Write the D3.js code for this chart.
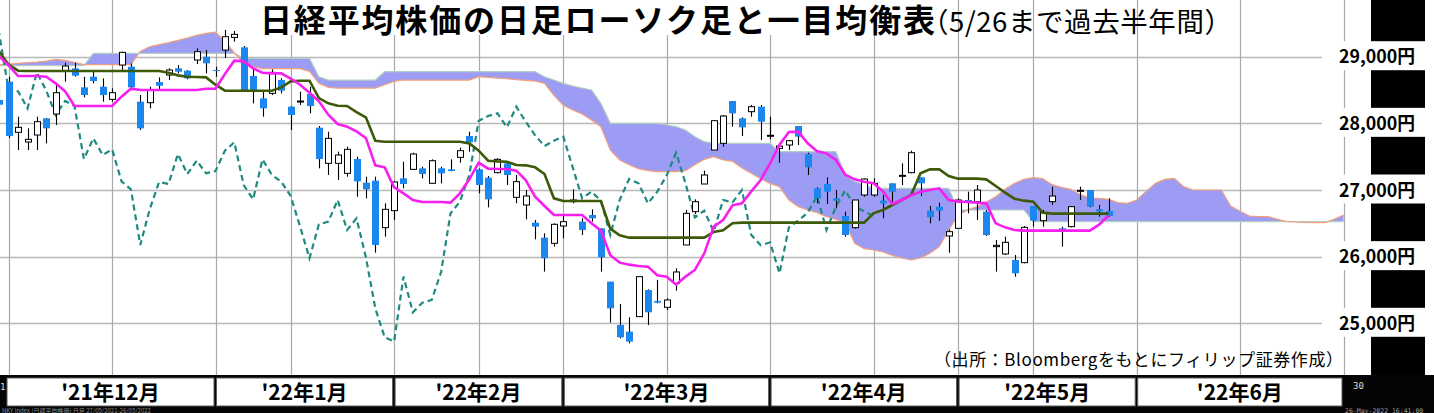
<!DOCTYPE html>
<html><head><meta charset="utf-8">
<script src="https://cdn.jsdelivr.net/npm/d3@7"></script>
<style>html,body{margin:0;padding:0;background:#fff;}svg{display:block;}</style>
</head><body>
<svg id="chart" width="1434" height="413"></svg>
<script>
// ---------- DATA ----------
const dates = ["11/29","11/30","12/1","12/2","12/3","12/6","12/7","12/8","12/9","12/10","12/13","12/14","12/15","12/16","12/17","12/20","12/21","12/22","12/23","12/24","12/27","12/28","12/29","12/30","1/4","1/5","1/6","1/7","1/11","1/12","1/13","1/14","1/17","1/18","1/19","1/20","1/21","1/24","1/25","1/26","1/27","1/28","1/31","2/1","2/2","2/3","2/4","2/7","2/8","2/9","2/10","2/14","2/15","2/16","2/17","2/18","2/21","2/22","2/24","2/25","2/28","3/1","3/2","3/3","3/4","3/7","3/8","3/9","3/10","3/11","3/14","3/15","3/16","3/17","3/18","3/22","3/23","3/24","3/25","3/28","3/29","3/30","3/31","4/1","4/4","4/5","4/6","4/7","4/8","4/11","4/12","4/13","4/14","4/15","4/18","4/19","4/20","4/21","4/22","4/25","4/26","4/27","4/28","5/2","5/6","5/9","5/10","5/11","5/12","5/13","5/16","5/17","5/18","5/19","5/20","5/23","5/24","5/25","5/26"];
const futureDates = ["5/27","5/30","5/31","6/1","6/2","6/3","6/6","6/7","6/8","6/9","6/10","6/13","6/14","6/15","6/16","6/17","6/20","6/21","6/22","6/23","6/24","6/27","6/28","6/29","6/30"];

const open = [28350,28625,27865,27720,27825,28075,28140,28790,28825,28540,
28700,28550,28360,28875,28850,28325,28310,28620,28725,28825,
28790,28950,29000,28800,29100,29290,29140,28710,28375,28450,
28650,28250,28330,28440,27935,27400,27400,27250,27465,27110,
27140,26435,26690,27175,27310,27325,27100,27325,27310,27490,
27810,27310,27185,27260,27400,26890,26775,26510,26285,26200,
26460,26825,26525,26625,26425,25625,24975,24875,25100,25500,
25335,25240,25600,26175,26675,27090,27600,27700,28335,28075,
28175,28250,27815,27625,27675,27960,27540,27025,27090,26875,
26610,26435,26925,26925,26840,27100,27210,27260,27190,26690,
26750,26310,26425,26850,26825,26675,26150,26040,25950,25910,
26760,26540,26825,26425,26450,26985,27000,26710,26685];
const high = [28550,28700,28100,27925,28100,28080,28610,28910,28910,28700,
28790,28675,28525,29075,28900,28425,28550,28690,28825,28875,
28800,29125,29100,28850,29400,29385,29160,28825,28475,28810,
28675,28260,28475,28550,27960,27875,27575,27650,27500,27200,
27200,26800,27130,27425,27560,27350,27460,27350,27460,27635,
27875,27325,27210,27475,27410,27225,27000,26550,26350,26500,
26625,27010,26575,26710,26425,25625,25290,25090,25700,25510,
25650,25375,25825,26700,26860,27290,28050,28125,28335,28090,
28275,28275,28100,27700,27750,27960,27560,27040,27190,27000,
26675,26850,27175,27175,26925,27100,27400,27590,27190,26760,
26810,26410,26875,26975,27075,26700,26250,26300,26025,26460,
26760,26700,27050,26450,26760,27050,27000,26775,26875];
const low = [28200,27780,27600,27600,27600,27700,27975,28625,28700,28390,
28600,28325,28325,28800,28525,27900,28225,28490,28650,28750,
28660,28890,28750,28700,28980,29225,28480,28300,28100,28425,
28450,27900,28275,28150,27325,27225,27150,27200,26900,26875,
26060,26300,26550,27025,27300,27175,27090,27100,27280,27410,
27575,26950,26740,27250,27075,26800,26560,26260,25775,26150,
26275,26800,26325,26525,25775,25010,24775,24700,25100,24975,
25300,25200,25490,26175,26640,27090,27600,27650,27950,27810,
28100,27750,27760,27410,27600,27675,27225,26800,26790,26725,
26300,26420,26900,26900,26575,26775,27075,27250,26910,26500,
26540,26060,26425,26650,26550,26310,25775,26025,25700,25900,
26450,26450,26775,26150,26440,26850,26740,26600,26600];
const close = [28280,27810,27940,27760,28025,27925,28460,28860,28715,28425,
28635,28425,28460,29065,28540,27925,28500,28565,28800,28775,
28675,29075,28900,28790,29300,29335,28490,28480,28225,28765,
28490,28125,28335,28260,27465,27775,27525,27610,27130,27010,
26175,26710,27120,27090,27540,27240,27440,27250,27285,27590,
27715,27075,26860,27460,27225,27125,26910,26450,25975,26485,
26525,26850,26400,26575,25990,25225,24790,24725,25700,25165,
25310,25350,25770,26650,26825,27225,28040,28110,28150,27940,
28250,28025,27821,27660,27740,27800,27340,26875,26975,26840,
26325,26850,27165,27100,26800,26975,27220,27560,27100,26590,
26690,26375,26850,26815,27000,26325,26170,26215,25750,26440,
26540,26660,26910,26400,26750,26995,26750,26680,26610];

// 転換線 (conversion line)
const tenkan = [29000,28870,28710,28710,28710,28700,28600,28480,28260,28260,
28260,28260,28260,28400,28520,28500,28500,28500,28500,28500,
28500,28500,28520,28520,28740,28940,28930,28825,28760,28750,
28750,28670,28580,28460,28330,28130,27990,27950,27880,27780,
27370,27340,27040,26950,26850,26820,26820,26820,26810,26950,
27160,27410,27320,27315,27315,27290,27150,26900,26760,26625,
26625,26625,26625,26500,26390,26020,25910,25880,25860,25850,
25720,25700,25580,25700,25800,26050,26450,26550,26770,26800,
26980,27150,27400,27680,27870,27875,27700,27580,27550,27450,
27230,27160,27125,27100,26980,26790,26850,26920,26975,27000,
27025,26850,26825,26820,26810,26800,26500,26440,26400,26390,
26390,26390,26390,26390,26390,26390,26390,26480,26620];
// 基準線 (base line)
const kijun = [29075,28880,28790,28785,28785,28785,28785,28785,28785,28785,
28785,28785,28785,28785,28785,28785,28785,28785,28760,28720,
28700,28695,28690,28580,28490,28490,28490,28490,28490,28490,
28540,28630,28640,28640,28380,28300,28265,28260,28170,28090,
27740,27725,27725,27725,27725,27725,27725,27725,27725,27725,
27700,27590,27440,27430,27425,27375,27370,27340,27240,26875,
26835,26835,26835,26835,26835,26420,26320,26285,26285,26285,
26285,26285,26285,26285,26285,26285,26370,26395,26500,26510,
26510,26510,26510,26510,26510,26510,26510,26510,26510,26510,
26510,26510,26510,26650,26700,26775,26850,26925,27250,27310,
27310,27210,27170,27170,27170,27160,27060,26960,26870,26840,
26825,26660,26645,26645,26645,26645,26645,26645,26645];
// 先行スパン1 / 先行スパン2 (cloud, 26 days ahead)
const senkouA = [28880,28890,28900,28910,28920,28935,28960,28945,28915,28880,
28880,28880,28880,28880,28880,29080,29150,29180,29210,29245,
29280,29320,29350,29370,29230,29060,28900,28850,28820,28820,
28820,28820,28820,28780,28600,28540,28530,28530,28530,28530,
28530,28580,28630,28650,28650,28650,28650,28650,28650,28650,
28650,28700,28690,28680,28670,28655,28645,28635,28600,28420,
28270,28200,28140,28050,27950,27600,27450,27380,27320,27290,
27275,27275,27275,27290,27380,27460,27500,27450,27430,27330,
27250,27170,27100,27050,26850,26750,26700,26660,26600,26560,
26500,26200,26120,26100,26070,26020,25980,25950,25980,26050,
26150,26400,26620,26700,26750,26820,26900,27010,27100,27160,
27185,27170,27080,27040,27010,26930,26880,26875,26860,26810,
26800,26850,26980,27100,27160,27175,27050,27000,27000,27000,
27000,26760,26680,26610,26600,26600,26560,26525,26520,26515,
26510,26510,26560,26625];
const senkouB = [28865,28865,28865,28865,28865,28865,28865,28865,28865,28865,
29050,29050,29050,29050,29050,29050,29050,29050,29050,29050,
29050,29050,29050,29050,29050,29050,28975,28975,28975,28975,
28975,28975,28975,28975,28700,28650,28650,28650,28650,28650,
28650,28775,28775,28775,28775,28775,28775,28775,28775,28775,
28775,28775,28775,28775,28775,28775,28775,28775,28700,28650,
28600,28560,28530,28500,28300,28000,28000,28000,28000,28000,
28000,27975,27950,27900,27800,27725,27700,27700,27700,27700,
27700,27700,27700,27575,27575,27575,27575,27575,27575,27575,
27220,27130,27080,27025,27025,27025,27025,27025,27025,27025,
27025,27025,26700,26700,26700,26700,26700,26700,26700,26700,
26525,26525,26525,26525,26525,26525,26525,26525,26525,26525,
26525,26525,26525,26525,26525,26525,26525,26525,26525,26525,
26525,26525,26525,26525,26525,26525,26525,26525,26525,26525,
26525,26525,26525,26525];
const CHIKOU_SHIFT = 25; // 遅行スパン: close plotted 25 bars back

const priceTicks = [29000,28000,27000,26000,25000];
const priceLabels = ["29,000円","28,000円","27,000円","26,000円","25,000円"];
const gridDays = [1,12,23,31,42,51,60,71,82,93,102,110,121,132,143];
const monthLabels = ["'21年12月","'22年1月","'22年2月","'22年3月","'22年4月","'22年5月","'22年6月"];
const monthSpans = [[1,23],[23,42],[42,60],[60,82],[82,102],[102,121],[121,143]];
const titleMain = "日経平均株価の日足ローソク足と一目均衡表";
const titleSub = "（5/26まで過去半年間）";
const sourceText = "（出所：Bloombergをもとにフィリップ証券作成）";

// ---------- DRAW ----------
const W = 1434, H = 413;
const FONT = "'Noto Sans CJK JP','Noto Sans',sans-serif";
const nBars = dates.length + futureDates.length; // 144
const x = d3.scaleLinear().domain([0, nBars - 1]).range([-0.7, 1343.5]);
const y = d3.scaleLinear().domain([25000, 29000]).range([323.3, 56.7]);
const svg = d3.select("#chart");
svg.append("rect").attr("width", W).attr("height", H).attr("fill", "#fff");

const defs = svg.append("defs");
defs.append("clipPath").attr("id", "plotclip").append("rect")
  .attr("x", 0).attr("y", 0).attr("width", 1346).attr("height", 375);

const plot = svg.append("g").attr("clip-path", "url(#plotclip)");

// grid
plot.append("g").selectAll("line").data(priceTicks).join("line")
  .attr("x1", 0).attr("x2", 1322)
  .attr("y1", d => Math.round(y(d)) + 0.5).attr("y2", d => Math.round(y(d)) + 0.5)
  .attr("stroke", "#b9b9b9").attr("stroke-width", 1.4);
plot.append("g").selectAll("line").data(gridDays).join("line")
  .attr("x1", d => Math.round(x(d)) + 0.5).attr("x2", d => Math.round(x(d)) + 0.5)
  .attr("y1", 0).attr("y2", 375)
  .attr("stroke", "#a9a9a9").attr("stroke-width", 1.2);

// cloud
const cloud = senkouA.map((a, i) => ({ i, a, b: senkouB[i] }));
plot.append("path").datum(cloud)
  .attr("d", d3.area().x(d => x(d.i)).y0(d => y(d.b)).y1(d => y(d.a)))
  .attr("fill", "#9c9cf4");
plot.append("path").datum(cloud)
  .attr("d", d3.line().x(d => x(d.i)).y(d => y(d.b)))
  .attr("fill", "none").attr("stroke", "#b2d0c2").attr("stroke-width", 1.2);
plot.append("path").datum(cloud)
  .attr("d", d3.line().x(d => x(d.i)).y(d => y(d.a)))
  .attr("fill", "none").attr("stroke", "#f2a07c").attr("stroke-width", 1.2);

// chikou (lagging span)
const chikou = close.map((c, j) => ({ i: j - CHIKOU_SHIFT, v: c })).filter(d => d.i >= -2);
plot.append("path").datum(chikou)
  .attr("d", d3.line().x(d => x(d.i)).y(d => y(d.v)))
  .attr("fill", "none").attr("stroke", "#1e8a82").attr("stroke-width", 2.2)
  .attr("stroke-dasharray", "6,4");

// candles
const candles = dates.map((d, i) => ({ i, o: open[i], h: high[i], l: low[i], c: close[i] }));
const cg = plot.append("g");
cg.selectAll("line").data(candles).join("line")
  .attr("x1", d => Math.round(x(d.i)) + 0.5).attr("x2", d => Math.round(x(d.i)) + 0.5)
  .attr("y1", d => y(d.h)).attr("y2", d => y(d.l))
  .attr("stroke", "#000").attr("stroke-width", 1.1);
cg.selectAll("rect").data(candles).join("rect")
  .attr("x", d => d.c >= d.o ? Math.round(x(d.i)) - 2.5 : Math.round(x(d.i)) - 3)
  .attr("width", d => d.c >= d.o ? 6 : 7)
  .attr("y", d => y(Math.max(d.o, d.c)))
  .attr("height", d => Math.max(1, Math.abs(y(d.o) - y(d.c))))
  .attr("fill", d => d.c >= d.o ? "#fff" : "#1a86ee")
  .attr("stroke", d => d.c >= d.o ? "#000" : "none")
  .attr("stroke-width", 1);

// kijun & tenkan
plot.append("path").datum(kijun)
  .attr("d", d3.line().x((d, i) => x(i)).y(d => y(d)))
  .attr("fill", "none").attr("stroke", "#3d5a08").attr("stroke-width", 2.6);
plot.append("path").datum(tenkan)
  .attr("d", d3.line().x((d, i) => x(i)).y(d => y(d)))
  .attr("fill", "none").attr("stroke", "#f61ff0").attr("stroke-width", 2.6);

// title
svg.append("rect").attr("x", 255).attr("y", 0).attr("width", 682).attr("height", 35).attr("fill", "#fff");
svg.append("text").attr("x", 260).attr("y", 31.5)
  .attr("font-family", FONT).attr("font-weight", 700).attr("font-size", 32)
  .attr("textLength", 675).attr("lengthAdjust", "spacing")
  .attr("fill", "#000").text(titleMain);
svg.append("text").attr("x", 921).attr("y", 31.5)
  .attr("font-family", FONT).attr("font-weight", 400).attr("font-size", 27.5)
  .attr("textLength", 311).attr("lengthAdjust", "spacing")
  .attr("fill", "#000").text(titleSub);

// right axis column
svg.append("rect").attr("x", 1371).attr("y", 0).attr("width", 54).attr("height", 375).attr("fill", "#000");
const ax = svg.append("g");
ax.selectAll("rect").data(priceTicks).join("rect")
  .attr("x", 1331).attr("width", 94)
  .attr("y", d => y(d) - 15.5).attr("height", 29).attr("fill", "#fff");
ax.selectAll("text").data(priceTicks).join("text")
  .attr("x", 1339).attr("y", d => y(d) - 1.5)
  .attr("dominant-baseline", "central")
  .attr("font-family", FONT).attr("font-weight", 700).attr("font-size", 18)
  .attr("textLength", 76).attr("lengthAdjust", "spacingAndGlyphs")
  .attr("fill", "#000").text((d, i) => priceLabels[i]);

// source
svg.append("text").attr("x", 934).attr("y", 366)
  .attr("font-family", FONT).attr("font-size", 17)
  .attr("textLength", 409).attr("lengthAdjust", "spacing")
  .attr("fill", "#000").text(sourceText);

// bottom axis strip
svg.append("rect").attr("x", 0).attr("y", 375).attr("width", W).attr("height", H - 375).attr("fill", "#050505");
svg.append("text").attr("x", 2).attr("y", 412.5).attr("font-family", FONT).attr("font-size", 6)
  .attr("fill", "#8a8a8a").text("NKY Index (日経平均株価) 日足 27/05/2021-26/05/2022");
svg.append("text").attr("x", 1345).attr("y", 412.5).attr("font-family", "'DejaVu Sans Mono',monospace").attr("font-size", 6.5)
  .attr("fill", "#9a9a9a").text("26-May-2022 16:41:00");
svg.append("text").attr("x", 1353).attr("y", 389).attr("font-family", "'DejaVu Sans Mono',monospace").attr("font-size", 9)
  .attr("fill", "#ddd").text("30");
svg.append("text").attr("x", 0).attr("y", 390).attr("font-family", "'DejaVu Sans Mono',monospace").attr("font-size", 9)
  .attr("fill", "#ddd").text("1");
const mb = svg.append("g");
mb.selectAll("rect").data(monthSpans).join("rect")
  .attr("x", (d, i) => i === 0 ? 7 : x(d[0]) + 1)
  .attr("width", (d, i) => x(d[1]) - 1.5 - (i === 0 ? 7 : x(d[0]) + 1))
  .attr("y", 378).attr("height", 28)
  .attr("fill", "#fff").attr("stroke", "#5a5a5a").attr("stroke-width", 1);
mb.selectAll("text").data(monthSpans).join("text")
  .attr("x", (d, i) => ((i === 0 ? 7 : x(d[0]) + 1) + x(d[1]) - 1.5) / 2)
  .attr("y", 399.5).attr("text-anchor", "middle")
  .attr("font-family", FONT).attr("font-weight", 700).attr("font-size", 21)
  .attr("fill", "#000").text((d, i) => monthLabels[i]);
</script>
</body></html>
